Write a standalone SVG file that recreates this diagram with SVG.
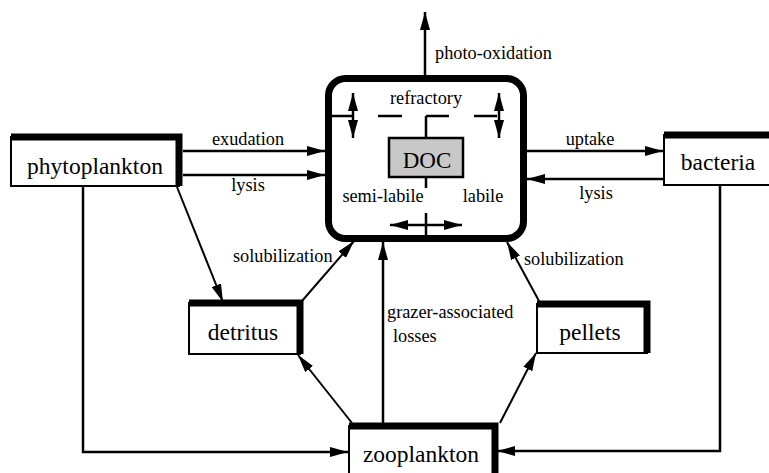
<svg xmlns="http://www.w3.org/2000/svg" width="769" height="473" viewBox="0 0 769 473">
<style>
.box{fill:#fff;stroke:#000;stroke-width:2}
.shadow{fill:none;stroke:#000;stroke-width:7;stroke-linejoin:miter}
text{font-family:'Liberation Serif','DejaVu Serif','Times New Roman',serif;fill:#000}
.node{font-size:23.5px;text-anchor:middle}
.lbl{font-size:18.3px}
.c{text-anchor:middle}
.ln{fill:none;stroke:#000;stroke-width:2.5}
.thin{fill:none;stroke:#000;stroke-width:2}
</style>
<defs>
<marker id="ah" markerUnits="userSpaceOnUse" markerWidth="18" markerHeight="10" refX="18" refY="5" orient="auto">
<path d="M0,0 L18,5 L0,10 z" fill="#000"/>
</marker>
</defs>
<rect width="769" height="473" fill="#fff"/>

<g id="connectors">
<line class="ln" x1="425" y1="76" x2="425" y2="12" marker-end="url(#ah)"/>
<line class="ln" x1="183" y1="151" x2="325" y2="151" marker-end="url(#ah)"/>
<line class="ln" x1="183" y1="175" x2="325" y2="175" marker-end="url(#ah)"/>
<line class="ln" x1="527" y1="151" x2="663" y2="151" marker-end="url(#ah)"/>
<line class="ln" x1="663" y1="179" x2="527" y2="179" marker-end="url(#ah)"/>
<polyline class="ln" points="83,186 83,452 348,452" marker-end="url(#ah)"/>
<polyline class="ln" points="720,185 720,451 497,451" marker-end="url(#ah)"/>
<line class="thin" x1="177" y1="187" x2="223" y2="302" marker-end="url(#ah)"/>
<line class="thin" x1="302" y1="301" x2="354" y2="241" marker-end="url(#ah)"/>
<line class="thin" x1="539" y1="301" x2="507" y2="242" marker-end="url(#ah)"/>
<line class="thin" x1="352" y1="423" x2="298" y2="355" marker-end="url(#ah)"/>
<line class="thin" x1="500" y1="423" x2="536" y2="353" marker-end="url(#ah)"/>
<line class="ln" x1="383" y1="423" x2="383" y2="242" marker-end="url(#ah)"/>
</g>

<g id="doc-pool">
<rect x="328.5" y="78.5" width="195" height="160" rx="17" fill="#fff" stroke="#000" stroke-width="7"/>
<path class="ln" d="M331,116 H353 M378,116 H402 M426,116 H449 M474,116 H497 M426,116 V138 M426,177 V188"/>
<line class="ln" x1="353" y1="116" x2="353" y2="93" marker-end="url(#ah)"/>
<line class="ln" x1="353" y1="116" x2="353" y2="138" marker-end="url(#ah)"/>
<line class="ln" x1="499" y1="116" x2="499" y2="93" marker-end="url(#ah)"/>
<line class="ln" x1="499" y1="116" x2="499" y2="138" marker-end="url(#ah)"/>
<line class="ln" x1="426" y1="225" x2="390" y2="225" marker-end="url(#ah)"/>
<line class="ln" x1="426" y1="225" x2="462" y2="225" marker-end="url(#ah)"/>
<line class="ln" x1="426" y1="213" x2="426" y2="236"/>
<rect x="389" y="138" width="74" height="39" fill="#c8c8c8" stroke="#000" stroke-width="2.5"/>
<text class="node" x="427" y="168" style="font-size:23px">DOC</text>
<text class="lbl c" x="426" y="104">refractory</text>
<text class="lbl c" x="383" y="202">semi-labile</text>
<text class="lbl c" x="483" y="202">labile</text>
</g>

<g id="phytoplankton">
<rect class="box" x="11" y="137" width="168" height="49"/>
<polyline class="shadow" points="11,137 179,137 179,186"/>
<text class="node" x="95" y="174">phytoplankton</text>
</g>

<g id="bacteria">
<rect class="box" x="664" y="135" width="120" height="50"/>
<polyline class="shadow" points="664,135 784,135"/>
<text class="node" x="718" y="170">bacteria</text>
</g>

<g id="detritus">
<rect class="box" x="189" y="303" width="111" height="51"/>
<polyline class="shadow" points="189,303 300,303 300,354"/>
<text class="node" x="243" y="340">detritus</text>
</g>

<g id="pellets">
<rect class="box" x="537" y="304" width="110" height="49"/>
<polyline class="shadow" points="537,304 647,304 647,353"/>
<text class="node" x="590" y="340">pellets</text>
</g>

<g id="zooplankton">
<rect class="box" x="349" y="426" width="146" height="60"/>
<polyline class="shadow" points="349,426 495,426 495,486"/>
<text class="node" x="421" y="462">zooplankton</text>
</g>

<g id="labels">
<text class="lbl" x="435" y="59">photo-oxidation</text>
<text class="lbl c" x="248" y="145">exudation</text>
<text class="lbl c" x="248" y="191">lysis</text>
<text class="lbl c" x="590" y="145">uptake</text>
<text class="lbl c" x="596" y="199">lysis</text>
<text class="lbl" x="233" y="262">solubilization</text>
<text class="lbl" x="524" y="265">solubilization</text>
<text class="lbl" x="387" y="318">grazer-associated</text>
<text class="lbl" x="393" y="342">losses</text>
</g>
</svg>
